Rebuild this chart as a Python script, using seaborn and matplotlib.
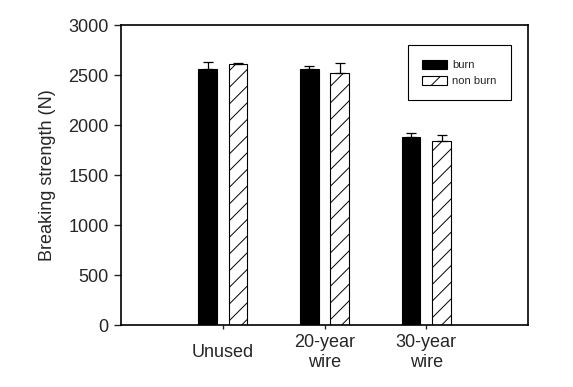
import matplotlib
matplotlib.use("Agg")
import matplotlib.pyplot as plt
import seaborn as sns
import pandas as pd

# values
categories = ["Unused", "20-year\nwire", "30-year\nwire"]
treatments = ["burn", "non burn"]
burn_mean = [2560, 2560, 1880]
burn_err = [70, 30, 40]
nonburn_mean = [2610, 2520, 1840]
nonburn_err = [10, 100, 65]

df = pd.DataFrame({
    "category": categories * 2,
    "treatment": [treatments[0]] * 3 + [treatments[1]] * 3,
    "strength": burn_mean + nonburn_mean,
})

sns.set_style("ticks")
plt.rcParams["font.family"] = ["Liberation Sans", "DejaVu Sans"]
plt.rcParams["hatch.linewidth"] = 0.7

fig = plt.figure(figsize=(5.73, 3.87), dpi=100)
ax = fig.add_axes([0.2112, 0.1602, 0.7103, 0.7752])

sns.barplot(data=df, x="category", y="strength", hue="treatment",
            order=categories, hue_order=treatments,
            palette={"burn": "black", "non burn": "white"},
            width=0.6, gap=0.38, errorbar=None,
            edgecolor="black", linewidth=0.8, ax=ax, legend=False)

for bar in ax.containers[1]:
    bar.set_hatch("//")

# upper error bars only
for cont, errs in zip(ax.containers, [burn_err, nonburn_err]):
    xs = [b.get_x() + b.get_width() / 2 for b in cont]
    ys = [b.get_height() for b in cont]
    ax.errorbar(xs, ys, yerr=[[0] * len(errs), errs], fmt="none",
                ecolor="black", elinewidth=0.9, capsize=3.5, capthick=0.9)

ax.set_xlim(-1, 3)
ax.set_ylim(0, 3000)
ax.set_yticks(range(0, 3001, 500))
ax.set_xlabel("")
ax.set_ylabel("Breaking strength (N)", fontsize=13, labelpad=9)

for side in ["left", "right", "top", "bottom"]:
    ax.spines[side].set_visible(True)
    ax.spines[side].set_linewidth(1.2)
    ax.spines[side].set_color("black")

ax.tick_params(axis="y", direction="out", length=5, width=1, labelsize=13, pad=4)
ax.tick_params(axis="x", direction="out", length=3, width=1, labelsize=13, pad=17)
for lab in ax.get_xticklabels():
    lab.set_verticalalignment("center")
    lab.set_linespacing(1.25)

ax.legend(handles=[ax.containers[0][0], ax.containers[1][0]], labels=treatments,
          loc="upper left", bbox_to_anchor=(0.705, 0.933), borderaxespad=0,
          fontsize=8, frameon=True, fancybox=False, edgecolor="black",
          framealpha=1, borderpad=1.3, labelspacing=0.5,
          handlelength=2.2, handleheight=0.9, handletextpad=0.5)
ax.get_legend().get_frame().set_linewidth(0.8)

fig.savefig("out.png", dpi=100)
